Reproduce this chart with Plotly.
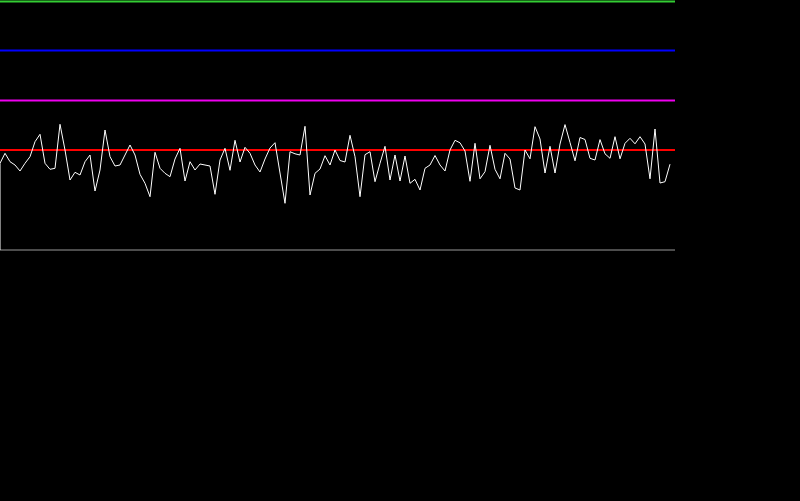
import plotly.graph_objects as go

# Signal samples (one sample per index)
signal_index = list(range(135))
signal_values = [
    86.7, 96.7, 88.3, 85, 79, 86.7, 93.3, 108.3, 115.7, 86.7,
    80.7, 81.7, 125.7, 100, 70, 77.7, 75, 88.3, 95, 59,
    80, 120, 93.3, 84, 85, 95, 105, 95, 75.7, 66.7,
    53.3, 97.7, 81.7, 76.7, 73.3, 91, 101.7, 69, 88.3, 80,
    86, 85, 84, 55.7, 90, 101.7, 79.7, 109.7, 88, 102.7,
    96.7, 85, 78, 91, 102, 107.3, 76, 46.7, 98.3, 96.2,
    95, 123.7, 55, 76.7, 81, 94.3, 85, 100, 89.5, 88,
    114.7, 93.3, 53.3, 95.3, 98.3, 68.3, 86.7, 103.7, 70, 95,
    69, 94, 66.7, 70.7, 60, 81.7, 85, 94.5, 85, 79,
    100, 109.7, 107.2, 99, 68.7, 106.7, 71.2, 78.3, 104.7, 80.7,
    71.2, 96.7, 91, 62, 60, 100, 91.2, 123.3, 111, 77,
    103.7, 77, 106, 125.4, 107.5, 89.2, 112.5, 110.5, 91.7, 90,
    110.4, 96.2, 91.7, 113.3, 91.2, 106.7, 111.7, 106.2, 113.3, 106,
    71.2, 121, 67, 68.3, 85.8,
]
# the trace rises from the baseline at the first sample
start_value = 0

# Horizontal reference levels
level_names = ["top", "high", "mid", "low", "base"]
level_values = [248.5, 199.5, 149.5, 100, 0]
level_colors = ["#33cc33", "#0000ff", "#ee00ee", "#ff0000", "#999999"]
level_widths = [2, 2, 2, 2, 1]
level_end = 135

fig = go.Figure()
for name, val, col, w in zip(level_names, level_values, level_colors, level_widths):
    fig.add_trace(go.Scatter(
        x=[0, level_end], y=[val, val], mode="lines",
        line=dict(color=col, width=w), name=name, hoverinfo="skip",
    ))

fig.add_trace(go.Scatter(
    x=[0] + signal_index, y=[start_value] + signal_values, mode="lines",
    line=dict(color="#ffffff", width=1), name="signal",
))

fig.update_layout(
    width=800, height=501,
    margin=dict(l=0, r=0, t=0, b=0),
    paper_bgcolor="#000000", plot_bgcolor="#000000",
    showlegend=False,
    xaxis=dict(range=[0, 160], visible=False, fixedrange=True),
    yaxis=dict(range=[-251, 250], visible=False, fixedrange=True),
)

fig.write_html("out.html")
